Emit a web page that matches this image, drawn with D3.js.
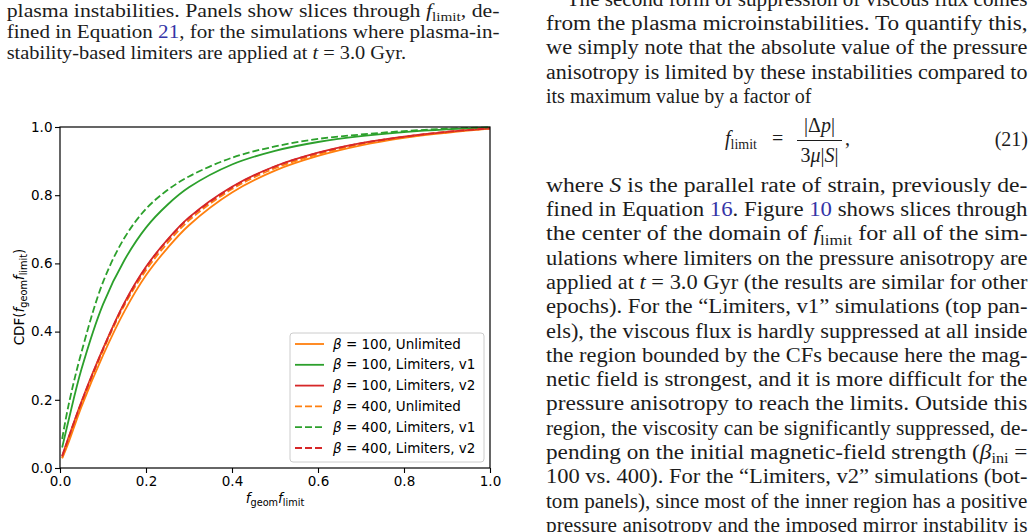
<!DOCTYPE html>
<html>
<head>
<meta charset="utf-8">
<script src="https://cdn.jsdelivr.net/npm/d3@7"></script>
<style>
  html, body { margin: 0; padding: 0; background: #fff; overflow: hidden; }
  svg { display: block; }
</style>
</head>
<body>
<script>
// ================= DATA ======================
// x positions (f_geom f_limit) where the curves were read off
const fVals = [0.005, 0.02, 0.05, 0.1, 0.15, 0.2, 0.25, 0.3, 0.4, 0.5, 0.6, 0.7, 0.8, 0.9, 1.0];

// CDF values, one array per run
const b100Unlimited = [0.028, 0.075, 0.18, 0.33, 0.46, 0.565, 0.645, 0.712, 0.808, 0.872, 0.915, 0.946, 0.968, 0.983, 0.995];
const b100LimV1     = [0.060, 0.140, 0.29, 0.48, 0.61, 0.705, 0.772, 0.823, 0.890, 0.930, 0.956, 0.973, 0.985, 0.993, 0.998];
const b100LimV2     = [0.035, 0.090, 0.195, 0.35, 0.485, 0.590, 0.670, 0.735, 0.825, 0.885, 0.925, 0.953, 0.972, 0.986, 0.996];
const b400Unlimited = [0.030, 0.085, 0.19, 0.345, 0.478, 0.580, 0.660, 0.726, 0.818, 0.879, 0.920, 0.950, 0.970, 0.985, 0.996];
const b400LimV1     = [0.085, 0.185, 0.34, 0.545, 0.675, 0.760, 0.815, 0.855, 0.910, 0.943, 0.965, 0.978, 0.988, 0.995, 0.999];
const b400LimV2     = [0.034, 0.089, 0.193, 0.348, 0.483, 0.588, 0.668, 0.733, 0.823, 0.884, 0.924, 0.952, 0.971, 0.986, 0.996];

const betas  = ["100", "100", "100", "400", "400", "400"];
const runs   = ["Unlimited", "Limiters, v1", "Limiters, v2", "Unlimited", "Limiters, v1", "Limiters, v2"];
const xTicks = [0, 0.2, 0.4, 0.6, 0.8, 1.0];
const yTicks = [0, 0.2, 0.4, 0.6, 0.8, 1.0];

// surrounding page text (*..* italic, _{..} subscript, [[..]] link)
const captionLines = [
  "magnitude of the viscous flux suppression arising from the",
  "plasma instabilities.  Panels show slices through *f*_{limit}, de-",
  "fined in Equation [[21]], for the simulations where plasma-in-",
  "stability-based limiters are applied at *t* = 3.0 Gyr."
];
const bodyTop = [
  "The second form of suppression of viscous flux comes",
  "from the plasma microinstabilities.  To quantify this,",
  "we simply note that the absolute value of the pressure",
  "anisotropy is limited by these instabilities compared to",
  "its maximum value by a factor of"
];
const bodyBottom = [
  "where *S* is the parallel rate of strain, previously de-",
  "fined in Equation [[16]].  Figure [[10]] shows slices through",
  "the center of the domain of *f*_{limit} for all of the sim-",
  "ulations where limiters on the pressure anisotropy are",
  "applied at *t* = 3.0 Gyr (the results are similar for other",
  "epochs).  For the \u201cLimiters, v1\u201d simulations (top pan-",
  "els), the viscous flux is hardly suppressed at all inside",
  "the region bounded by the CFs because here the mag-",
  "netic field is strongest, and it is more difficult for the",
  "pressure anisotropy to reach the limits.  Outside this",
  "region, the viscosity can be significantly suppressed, de-",
  "pending on the initial magnetic-field strength (*\u03b2*_{ini} =",
  "100 vs. 400).  For the \u201cLimiters, v2\u201d simulations (bot-",
  "tom panels), since most of the inner region has a positive",
  "pressure anisotropy and the imposed mirror instability is"
];

// ================== LAYOUT ===========================
const W = 1035, H = 532;
const svg = d3.select("body").append("svg")
  .attr("width", W).attr("height", H);

const serif = "'Liberation Serif', 'Times New Roman', serif";
const sans = "'DejaVu Sans', sans-serif";
const ink = "#1c1c1c";
const linkColor = "#3434a6";

// write one line of page text, stretched to fit the column when x1 is given
function textLine(str, x0, x1, yb, size) {
  const t = svg.append("text")
    .attr("x", x0).attr("y", yb)
    .attr("font-family", serif).attr("font-size", size)
    .attr("fill", ink);
  const parts = str.split(/(\*[^*]+\*|_\{[^}]+\}|\[\[[^\]]+\]\])/).filter(s => s.length);
  const shift = size * 0.22;
  let down = false;
  parts.forEach(p => {
    const s = t.append("tspan");
    if (down) { s.attr("dy", -shift); down = false; }
    if (p.startsWith("*")) {
      s.text(p.slice(1, -1)).attr("font-style", "italic");
    } else if (p.startsWith("_{")) {
      s.text(p.slice(2, -1)).attr("font-size", size * 0.7).attr("dy", shift);
      down = true;
    } else if (p.startsWith("[[")) {
      s.text(p.slice(2, -2)).attr("fill", linkColor);
    } else {
      s.text(p);
    }
  });
  if (x1 != null) {
    t.attr("textLength", x1 - x0).attr("lengthAdjust", "spacingAndGlyphs");
  }
  return t;
}

// ---- left column caption
captionLines.forEach((l, i) => {
  const last = i === captionLines.length - 1;
  textLine(l, 6.7, last ? 406 : 499.5, -4.6 + i * 21.3, 18.5);
});

// ---- right column body
bodyTop.forEach((l, i) => {
  const x0 = i === 0 ? 566.7 : 546;
  const x1 = i === bodyTop.length - 1 ? null : 1027.5;
  textLine(l, x0, x1, 5.7 + i * 24.3, 20);
});
bodyBottom.forEach((l, i) => {
  textLine(l, 546, 1027.5, 191.7 + i * 24.3, 20);
});

// ---- equation (21)
const eq = svg.append("g").attr("font-family", serif).attr("fill", ink).attr("font-size", 20);
const eqL = eq.append("text").attr("x", 725).attr("y", 145);
eqL.append("tspan").attr("font-style", "italic").text("f");
eqL.append("tspan").attr("font-size", 14).attr("dy", 4).text("limit");
eq.append("text").attr("x", 772).attr("y", 145).text("=");
const num = eq.append("text").attr("x", 819.5).attr("y", 131.5).attr("text-anchor", "middle");
num.append("tspan").text("|\u0394");
num.append("tspan").attr("font-style", "italic").text("p");
num.append("tspan").text("|");
eq.append("line").attr("x1", 797).attr("x2", 842).attr("y1", 140.5).attr("y2", 140.5)
  .attr("stroke", ink).attr("stroke-width", 1);
const den = eq.append("text").attr("x", 819.5).attr("y", 161.7).attr("text-anchor", "middle");
den.append("tspan").text("3");
den.append("tspan").attr("font-style", "italic").text("\u03bc");
den.append("tspan").text("|");
den.append("tspan").attr("font-style", "italic").text("S");
den.append("tspan").text("|");
eq.append("text").attr("x", 845).attr("y", 145).text(",");
eq.append("text").attr("x", 1028).attr("y", 146).attr("text-anchor", "end").text("(21)");

// ================== CHART ===========================
const xScale = d3.scaleLinear().domain([0, 1]).range([60, 490]);
const yScale = d3.scaleLinear().domain([0, 1]).range([468, 127]);

const chart = svg.append("g").attr("class", "chart");

const colors = ["#ff7f0e", "#2ca02c", "#d62728", "#ff7f0e", "#2ca02c", "#d62728"];
const dashed = [false, false, false, true, true, true];
const series = [b100Unlimited, b100LimV1, b100LimV2, b400Unlimited, b400LimV1, b400LimV2];

// line generator
const line = d3.line()
  .x(d => xScale(d[0]))
  .y(d => yScale(d[1]))
  .curve(d3.curveCatmullRom.alpha(0.5));

series.forEach((vals, i) => {
  chart.append("path")
    .attr("fill", "none")
    .attr("stroke", colors[i])
    .attr("stroke-width", 1.8)
    .attr("stroke-dasharray", dashed[i] ? "7,3" : null)
    .attr("d", line(fVals.map((f, j) => [f, vals[j]])));
});

// axes
const fmt = d3.format(".1f");
const xAxis = d3.axisBottom(xScale).tickValues(xTicks).tickFormat(fmt)
  .tickSize(5).tickSizeOuter(0).tickPadding(3.5);
const yAxis = d3.axisLeft(yScale).tickValues(yTicks).tickFormat(fmt)
  .tickSize(5).tickSizeOuter(0).tickPadding(2.5);

const gx = chart.append("g").attr("transform", "translate(0,468)").call(xAxis);
const gy = chart.append("g").attr("transform", "translate(60,0)").call(yAxis);
[gx, gy].forEach(g => {
  g.selectAll("text").attr("font-family", sans).attr("font-size", 13.5).attr("fill", "#000");
  g.selectAll("line").attr("stroke", "#000").attr("stroke-width", 1.1);
  g.select(".domain").remove();
});

// frame
chart.append("rect")
  .attr("x", 60).attr("y", 127).attr("width", 430).attr("height", 341)
  .attr("fill", "none").attr("stroke", "#000").attr("stroke-width", 1.2);

// axis labels
function fLabel(t, size) {
  t.append("tspan").attr("font-style", "italic").text("f");
  t.append("tspan").attr("font-size", size * 0.72).attr("dy", 3).text("geom");
  t.append("tspan").attr("font-style", "italic").attr("dy", -3).text("f");
  t.append("tspan").attr("font-size", size * 0.72).attr("dy", 3).text("limit");
}
const xl = chart.append("text")
  .attr("x", 275).attr("y", 502.5).attr("text-anchor", "middle")
  .attr("font-family", sans).attr("font-size", 13.5);
fLabel(xl, 13.5);

const yl = chart.append("text")
  .attr("transform", "translate(23.5,297) rotate(-90)")
  .attr("text-anchor", "middle")
  .attr("font-family", sans).attr("font-size", 13.5);
yl.append("tspan").text("CDF(");
fLabel(yl, 13.5);
yl.append("tspan").attr("dy", -3).text(")");

// legend
const legend = chart.append("g");
legend.append("rect")
  .attr("x", 290).attr("y", 333).attr("width", 194).attr("height", 129).attr("rx", 3)
  .attr("fill", "#fff").attr("fill-opacity", 0.8)
  .attr("stroke", "#cccccc").attr("stroke-width", 1);

series.forEach((vals, i) => {
  const yy = 344 + i * 20.8;
  legend.append("line")
    .attr("x1", 295).attr("x2", 324).attr("y1", yy).attr("y2", yy)
    .attr("stroke", colors[i]).attr("stroke-width", 1.8)
    .attr("stroke-dasharray", dashed[i] ? "7,3" : null);
  const t = legend.append("text")
    .attr("x", 333).attr("y", yy + 4.5)
    .attr("font-family", sans).attr("font-size", 13.5);
  t.append("tspan").attr("font-style", "italic").text("\u03b2");
  t.append("tspan").text(" = " + betas[i] + ", " + runs[i]);
});
</script>
</body>
</html>
